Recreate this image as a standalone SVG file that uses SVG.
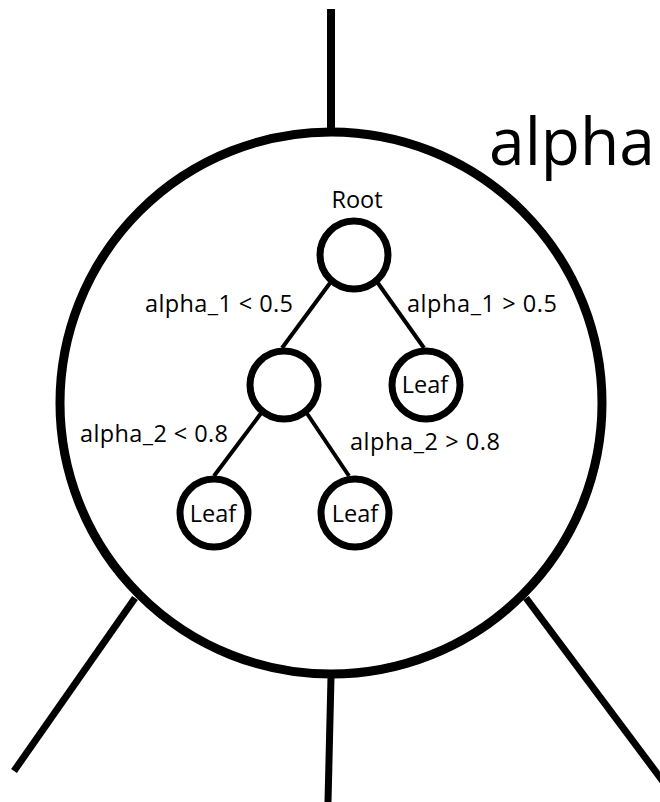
<svg xmlns="http://www.w3.org/2000/svg" width="660" height="802" viewBox="0 0 660 802">
<style>
.big{fill:#fff;stroke:#000;stroke-width:9}
.node{fill:#fff;stroke:#000;stroke-width:7}
.ext{stroke:#000;stroke-width:7;fill:none}
.edge{stroke:#000;stroke-width:4;fill:none}
.lbl{font-family:"Open Sans","Noto Sans",sans-serif;font-size:23.5px;fill:#000}
.title{font-family:"Open Sans","Noto Sans",sans-serif;font-size:65px;fill:#000}
</style>
<rect width="660" height="802" fill="#fff"/>
<g id="outer">
<circle class="big" cx="331" cy="403" r="271"/>
</g>
<g id="connectors">
<line class="ext" x1="331" y1="9" x2="331" y2="130" style="stroke-width:8"/>
<line class="ext" x1="135" y1="598" x2="14" y2="771"/>
<line class="ext" x1="331" y1="677" x2="328" y2="802"/>
<line class="ext" x1="526" y1="598" x2="665" y2="784"/>
<line class="edge" x1="333" y1="279" x2="282" y2="348"/>
<line class="edge" x1="375" y1="279" x2="424" y2="348"/>
<line class="edge" x1="262" y1="412" x2="214" y2="476"/>
<line class="edge" x1="306" y1="412" x2="349" y2="476"/>
</g>
<g id="title"><text class="title" x="489" y="165" textLength="166" lengthAdjust="spacingAndGlyphs">alpha</text></g>
<g id="root">
<circle class="node" cx="354" cy="255" r="34"/>
<text class="lbl" x="357" y="208" text-anchor="middle">Root</text>
</g>
<g id="mid">
<circle class="node" cx="284" cy="385" r="34"/>
</g>
<g id="leaf1">
<circle class="node" cx="426" cy="385" r="34"/>
<text class="lbl" x="425" y="393" text-anchor="middle">Leaf</text>
</g>
<g id="leaf2">
<circle class="node" cx="214" cy="513" r="34"/>
<text class="lbl" x="213" y="522" text-anchor="middle">Leaf</text>
</g>
<g id="leaf3">
<circle class="node" cx="355" cy="513" r="34"/>
<text class="lbl" x="355" y="522" text-anchor="middle">Leaf</text>
</g>
<g id="labels">
<text class="lbl" x="145" y="312" textLength="148">alpha_1 &lt; 0.5</text>
<text class="lbl" x="407" y="312" textLength="150">alpha_1 &gt; 0.5</text>
<text class="lbl" x="80" y="442" textLength="148">alpha_2 &lt; 0.8</text>
<text class="lbl" x="350" y="450" textLength="150">alpha_2 &gt; 0.8</text>
</g>
</svg>
